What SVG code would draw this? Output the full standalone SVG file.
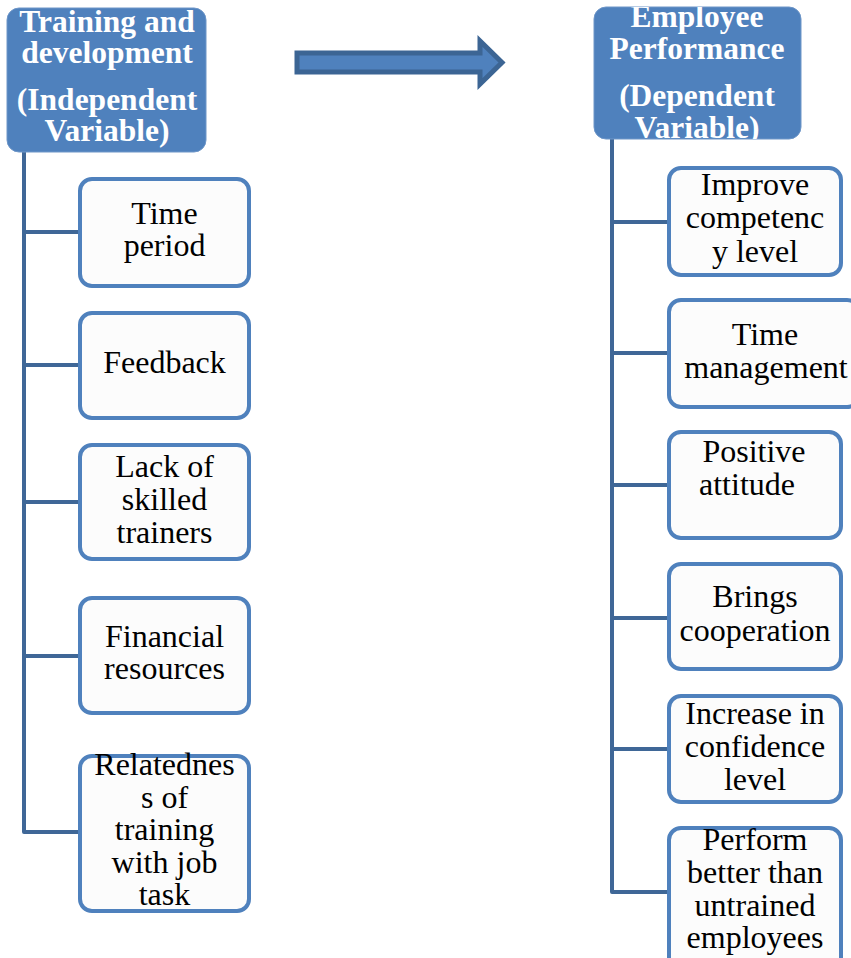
<svg xmlns="http://www.w3.org/2000/svg" width="851" height="958" viewBox="0 0 851 958">
<style>
.hdr{fill:#4F81BD;stroke:#6E96C8;stroke-width:1}
.htx{font-family:'Liberation Serif','Times New Roman',Times,serif;font-weight:bold;font-size:31.5px;fill:#FFFFFF;text-anchor:middle}
.box{fill:#FCFCFC;stroke:#4F81BD;stroke-width:4}
.btx{font-family:'Liberation Serif','Times New Roman',Times,serif;font-size:32px;fill:#000000;text-anchor:middle}
.con{fill:none;stroke:#3F6797;stroke-width:4;stroke-linejoin:round}
</style>
<defs>
<clipPath id="clipR"><rect x="594" y="7" width="207" height="132" rx="12"/></clipPath>
</defs>
<g id="connectors">
<path class="con" d="M24 152 V832 H80"/>
<path class="con" d="M24 232 H80 M24 365 H80 M24 502 H80 M24 656 H80"/>
<path class="con" d="M612 139 V892 H669"/>
<path class="con" d="M612 222 H669 M612 353 H669 M612 485 H669 M612 618 H669 M612 749 H669"/>
</g>
<g id="arrow">
<path d="M297 53 H480 V41 L502 62.5 L480 84 V72 H297 Z" fill="#4F81BD" stroke="#3C6594" stroke-width="5" stroke-linejoin="miter"/>
</g>
<g id="indep">
<rect class="hdr" x="7" y="8" width="199" height="144" rx="12"/>
<text class="htx" x="107" y="32">Training and</text>
<text class="htx" x="107" y="63">development</text>
<text class="htx" x="107" y="110">(Independent</text>
<text class="htx" x="107" y="141">Variable)</text>
</g>
<g id="dep">
<rect class="hdr" x="594" y="7" width="207" height="132" rx="12"/>
<g clip-path="url(#clipR)">
<text class="htx" x="697" y="27">Employee</text>
<text class="htx" x="697" y="59">Performance</text>
<text class="htx" x="697" y="106">(Dependent</text>
<text class="htx" x="697" y="138">Variable)</text>
</g>
</g>
<g id="l1">
<rect class="box" x="80" y="179" width="169" height="107" rx="12"/>
<text class="btx" x="164.5" y="224">Time</text>
<text class="btx" x="164.5" y="256">period</text>
</g>
<g id="l2">
<rect class="box" x="80" y="313" width="169" height="105" rx="12"/>
<text class="btx" x="164.5" y="373">Feedback</text>
</g>
<g id="l3">
<rect class="box" x="80" y="445" width="169" height="114" rx="12"/>
<text class="btx" x="164.5" y="477">Lack of</text>
<text class="btx" x="164.5" y="510">skilled</text>
<text class="btx" x="164.5" y="543">trainers</text>
</g>
<g id="l4">
<rect class="box" x="80" y="598" width="169" height="115" rx="12"/>
<text class="btx" x="164.5" y="647">Financial</text>
<text class="btx" x="164.5" y="679">resources</text>
</g>
<g id="l5">
<rect class="box" x="80" y="756" width="169" height="155" rx="12"/>
<text class="btx" x="164.5" y="775">Relatednes</text>
<text class="btx" x="164.5" y="808">s of</text>
<text class="btx" x="164.5" y="840">training</text>
<text class="btx" x="164.5" y="873">with job</text>
<text class="btx" x="164.5" y="905">task</text>
</g>
<g id="r1">
<rect class="box" x="669" y="168" width="172" height="107" rx="12"/>
<text class="btx" x="755" y="195">Improve</text>
<text class="btx" x="755" y="228">competenc</text>
<text class="btx" x="755" y="262">y level</text>
</g>
<g id="r2">
<rect class="box" x="669" y="300" width="190" height="107" rx="12"/>
<text class="btx" x="765" y="345">Time</text>
<text class="btx" x="766" y="378">management</text>
</g>
<g id="r3">
<rect class="box" x="669" y="432" width="172" height="106" rx="12"/>
<text class="btx" x="754" y="462">Positive</text>
<text class="btx" x="747" y="495">attitude</text>
</g>
<g id="r4">
<rect class="box" x="669" y="564" width="172" height="105" rx="12"/>
<text class="btx" x="755" y="607">Brings</text>
<text class="btx" x="755" y="641">cooperation</text>
</g>
<g id="r5">
<rect class="box" x="669" y="696" width="172" height="106" rx="12"/>
<text class="btx" x="755" y="724">Increase in</text>
<text class="btx" x="755" y="757">confidence</text>
<text class="btx" x="755" y="790">level</text>
</g>
<g id="r6">
<rect class="box" x="669" y="828" width="172" height="150" rx="12"/>
<text class="btx" x="755" y="850">Perform</text>
<text class="btx" x="755" y="883">better than</text>
<text class="btx" x="755" y="916">untrained</text>
<text class="btx" x="755" y="948">employees</text>
</g>
</svg>
